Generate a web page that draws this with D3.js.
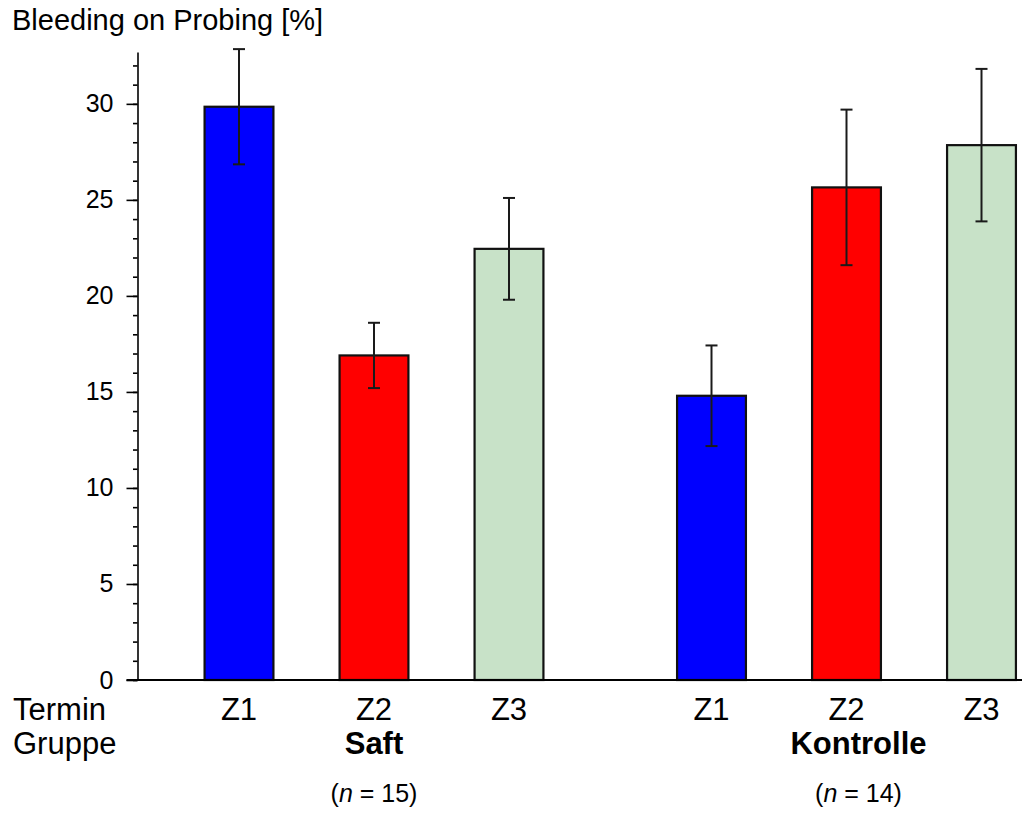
<!DOCTYPE html>
<html>
<head>
<meta charset="utf-8">
<script src="https://cdn.jsdelivr.net/npm/d3@7"></script>
<style>
  html, body { margin: 0; padding: 0; background: #fff; }
  svg { display: block; font-family: "Liberation Sans", Arial, Helvetica, sans-serif; }
</style>
</head>
<body>
<svg id="chart" width="1026" height="813"></svg>
<script>
// ---- data ----
const groups = ["Saft", "Kontrolle"];
const groupN = [15, 14];
const times = ["Z1", "Z2", "Z3"];
const timeColors = ["#0000ff", "#ff0000", "#c8e2c8"];
const saftMeans = [29.85, 16.9, 22.45];
const saftErrors = [3.0, 1.7, 2.65];
const kontrolleMeans = [14.8, 25.65, 27.85];
const kontrolleErrors = [2.62, 4.05, 3.97];
const yTicks = [0, 5, 10, 15, 20, 25, 30];
const yMax = 32.7;
const titleText = "Bleeding on Probing [%]";
const rowLabels = ["Termin", "Gruppe"];

const means = [saftMeans, kontrolleMeans];
const errors = [saftErrors, kontrolleErrors];
const bars = [];
groups.forEach((g, gi) => times.forEach((t, ti) => {
  bars.push({ group: g, gi, time: t, ti, mean: means[gi][ti], err: errors[gi][ti] });
}));

// ---- layout ----
const svg = d3.select("#chart");
const axisX = 137.5, y0 = 680, yTop = 52;
const groupGap = 0.5;
const slot = d => d.gi * (times.length + groupGap) + d.ti;
const x = d3.scaleLinear().domain([0, 5.5]).range([239, 981.5]);
const step = x(1) - x(0);
const barW = step * 0.51;
const y = d3.scaleLinear().domain([0, yMax]).range([y0, yTop]);

// title
svg.append("text").attr("x", 12).attr("y", 30)
  .attr("font-size", 29).attr("fill", "#000").text(titleText);

// minor ticks
const minorAxis = d3.axisLeft(y).tickValues(d3.range(0, Math.floor(yMax) + 1, 1))
  .tickSize(4.5).tickFormat("");
const gMinor = svg.append("g").attr("transform", `translate(${axisX},0)`).call(minorAxis);
gMinor.select(".domain").remove();
gMinor.selectAll(".tick line").attr("stroke", "#000").attr("stroke-width", 1.6);

// major axis
const majorAxis = d3.axisLeft(y).tickValues(yTicks).tickSize(11).tickSizeOuter(0).tickPadding(13);
const gMajor = svg.append("g").attr("transform", `translate(${axisX},0)`).call(majorAxis);
gMajor.select(".domain").attr("stroke", "#000").attr("stroke-width", 1.6);
gMajor.selectAll(".tick line").attr("stroke", "#000").attr("stroke-width", 1.6);
gMajor.selectAll(".tick text").attr("font-size", 25).attr("fill", "#000")
  .attr("font-family", "'Liberation Sans', Arial, sans-serif");

// bars
svg.append("g").selectAll("rect").data(bars).join("rect")
  .attr("x", d => x(slot(d)) - barW / 2)
  .attr("y", d => y(d.mean))
  .attr("width", barW)
  .attr("height", d => y(0) - y(d.mean))
  .attr("fill", d => timeColors[d.ti])
  .attr("stroke", "#111").attr("stroke-width", 2.2);

// error bars
const capW = 12;
const eb = svg.append("g").attr("stroke", "#1a1a1a").attr("stroke-width", 2);
eb.selectAll("line.v").data(bars).join("line").attr("class", "v")
  .attr("x1", d => x(slot(d))).attr("x2", d => x(slot(d)))
  .attr("y1", d => y(d.mean + d.err)).attr("y2", d => y(d.mean - d.err));
eb.selectAll("line.t").data(bars).join("line").attr("class", "t")
  .attr("x1", d => x(slot(d)) - capW / 2).attr("x2", d => x(slot(d)) + capW / 2)
  .attr("y1", d => y(d.mean + d.err)).attr("y2", d => y(d.mean + d.err));
eb.selectAll("line.b").data(bars).join("line").attr("class", "b")
  .attr("x1", d => x(slot(d)) - capW / 2).attr("x2", d => x(slot(d)) + capW / 2)
  .attr("y1", d => y(d.mean - d.err)).attr("y2", d => y(d.mean - d.err));

// x axis baseline
svg.append("line").attr("x1", axisX - 11).attr("x2", 1022)
  .attr("y1", y0).attr("y2", y0).attr("stroke", "#000").attr("stroke-width", 2);

// bottom labels
const labelSize = 31;
svg.append("g").selectAll("text").data(rowLabels).join("text")
  .attr("x", 13).attr("y", (d, i) => 720 + i * 34)
  .attr("font-size", labelSize).attr("fill", "#000").text(d => d);

svg.append("g").selectAll("text").data(bars).join("text")
  .attr("x", d => x(slot(d))).attr("y", 720)
  .attr("text-anchor", "middle").attr("font-size", labelSize).attr("fill", "#000")
  .text(d => d.time);

const mid = gi => x(gi * (times.length + groupGap) + 1);
svg.append("g").selectAll("text").data(groups).join("text")
  .attr("x", (d, i) => mid(i) + i * 12).attr("y", 754)
  .attr("text-anchor", "middle").attr("font-size", labelSize).attr("font-weight", "bold")
  .attr("fill", "#000").text(d => d);

const nt = svg.append("g").selectAll("text").data(groups).join("text")
  .attr("x", (d, i) => mid(i) + i * 12).attr("y", 802)
  .attr("text-anchor", "middle").attr("font-size", 25).attr("fill", "#000");
nt.append("tspan").text("(");
nt.append("tspan").attr("font-style", "italic").text("n");
nt.append("tspan").text((d, i) => " = " + groupN[i] + ")");
</script>
</body>
</html>
